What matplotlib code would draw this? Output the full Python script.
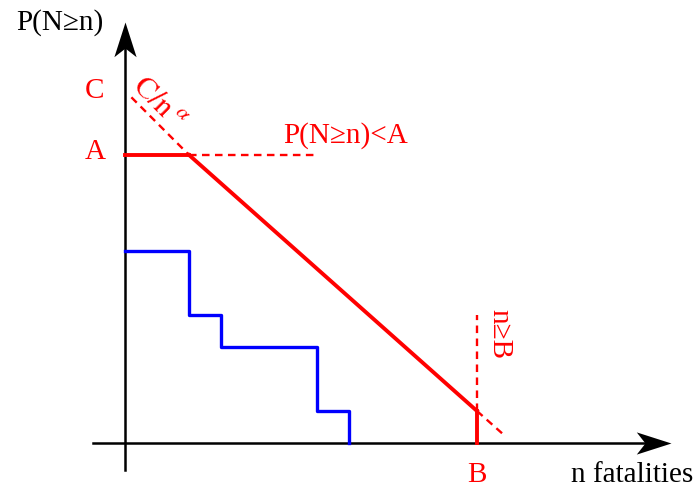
import numpy as np
import matplotlib.pyplot as plt
from matplotlib.path import Path

plt.rcParams['font.family'] = ['Liberation Serif', 'DejaVu Serif']
plt.rcParams['mathtext.fontset'] = 'stix'

# limit levels
A = 9
C = 11
B = 11
corner_n = 2  # where the C/n^a curve meets the A cap

# observed F-N curve (steps)
step_n = [0, 2, 3, 6, 7]
step_p = [6, 4, 3, 1, 0]

# limit line endpoints
limit_n = [corner_n, B]
limit_p = [A, 1]

fig = plt.figure(figsize=(7, 4.91), dpi=100)
ax = fig.add_axes([0, 0, 1, 1])
ax.set_xlim(-3.906, 17.97)
ax.set_ylim(-1.5, 13.84)
ax.axis('off')

red = '#ff0000'
blue = '#0000ff'
dash = dict(color=red, lw=1.7, linestyle=(0, (3.2, 2.3)))

# axes lines + arrow heads
ax.plot([-1, 16.6], [0, 0], color='black', lw=1.8, zorder=1)
ax.plot([0, 0], [-0.85, 12.7], color='black', lw=1.8, zorder=1)

def head(direction):
    verts = [(0, 0), (-1, 0.32), (-0.75, 0), (-1, -0.32), (0, 0)]
    if direction == 'up':
        verts = [(-y, x) for x, y in verts]
    codes = [Path.MOVETO, Path.LINETO, Path.LINETO, Path.LINETO, Path.CLOSEPOLY]
    return Path(verts, codes)

ax.plot([17.05], [0], marker=head('right'), markersize=50, color='black',
        markeredgewidth=0, zorder=2)
ax.plot([0], [13.15], marker=head('up'), markersize=50, color='black',
        markeredgewidth=0, zorder=2)

# blue step curve
ax.step(step_n, step_p, where='post', color=blue, lw=2.4, zorder=3)

# red limit line: cap at A, sloped part, cut off at B
slope = (limit_p[1] - limit_p[0]) / (limit_n[1] - limit_n[0])
ax.plot([0, corner_n], [A, A], color=red, lw=2.8, zorder=4)
ax.plot(limit_n, limit_p, color=red, lw=2.8, zorder=4)
ax.plot([B, B], [0, limit_p[1]], color=red, lw=2.8, zorder=4)

# dashed extensions
ax.plot([corner_n, 6], [A, A], **dash)
ax.plot([0.2, corner_n], [10.8, A], **dash)
ax.plot([B, B], [limit_p[1], 4], **dash)
n_end = B + 0.9
ax.plot([B, n_end], [limit_p[1], limit_p[1] + slope * 0.9], **dash)

# labels
fs = 21
ax.text(-0.94, C, 'C', color=red, fontsize=fs, ha='center', va='center')
ax.text(-0.94, A + 0.1, 'A', color=red, fontsize=fs, ha='center', va='center')
ax.text(B, -1.0, 'B', color=red, fontsize=fs, ha='center', va='center')
ax.text(-2.03, 13.15, 'P(N≥n)', color='black', fontsize=fs, ha='center', va='center')
ax.text(15.84, -1.0, 'n fatalities', color='black', fontsize=fs, ha='center', va='center')
ax.text(6.9, 9.6, 'P(N≥n)<A', color=red, fontsize=fs, ha='center', va='center')
ax.text(1.05, 10.6, r'$\mathrm{C/n}^{\;\alpha}$', color=red, fontsize=fs + 1,
        ha='center', va='center', rotation=-45, rotation_mode='anchor')
ax.text(11.69, 3.4, 'n≥B', color=red, fontsize=fs, ha='center', va='center',
        rotation=-90)

fig.savefig('out.png', dpi=100)
